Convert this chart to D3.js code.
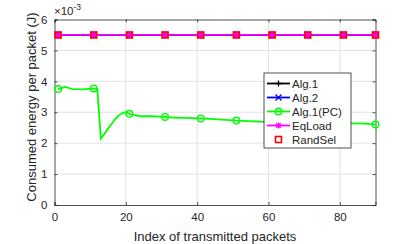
<!DOCTYPE html>
<html>
<head>
<meta charset="utf-8">
<script src="https://cdn.jsdelivr.net/npm/d3@7"></script>
<style>
  body { margin: 0; background: #fff; }
  text { font-family: "Liberation Sans", Arial, sans-serif; fill: #262626; }
</style>
</head>
<body>
<div class="chart"></div>
<script>
// data (energy values in units of 1e-3 J)
var flatX = [1, 11, 21, 31, 41, 51, 61, 71, 81, 90];
var alg1Y = [5.5, 5.5, 5.5, 5.5, 5.5, 5.5, 5.5, 5.5, 5.5, 5.5];
var alg2Y = [5.5, 5.5, 5.5, 5.5, 5.5, 5.5, 5.5, 5.5, 5.5, 5.5];
var eqLoadY = [5.5, 5.5, 5.5, 5.5, 5.5, 5.5, 5.5, 5.5, 5.5, 5.5];
var randSelY = [5.5, 5.5, 5.5, 5.5, 5.5, 5.5, 5.5, 5.5, 5.5, 5.5];

var pcX = [1, 3, 5, 8, 11, 12, 13, 14, 15, 16, 17, 18, 19, 20, 21, 24, 27, 31, 33, 35, 37, 41, 46, 51, 59, 61, 71, 81, 84, 87, 90];
var pcY = [3.75, 3.82, 3.75, 3.74, 3.77, 3.75, 2.15, 2.3, 2.47, 2.62, 2.78, 2.9, 2.97, 3.0, 2.95, 2.87, 2.87, 2.85, 2.83, 2.82, 2.82, 2.80, 2.77, 2.73, 2.69, 2.68, 2.66, 2.64, 2.64, 2.63, 2.60];
var pcMarkX = [1, 11, 21, 31, 41, 51, 61, 71, 81, 90];

var names = ["Alg.1", "Alg.2", "Alg.1(PC)", "EqLoad", "RandSel"];
var xTicks = [0, 20, 40, 60, 80];
var yTicks = [0, 1, 2, 3, 4, 5, 6];

var margin = { top: 19.5, right: 39.5, bottom: 39, left: 54.5 };
var width = 415 - margin.left - margin.right;
var height = 244 - margin.top - margin.bottom;

var xScale = d3.scaleLinear().domain([0, 90]).range([0, width]);
var yScale = d3.scaleLinear().domain([0, 6]).range([height, 0]);

var svg = d3.select(".chart").append("svg")
  .attr("width", 415).attr("height", 244);

var chart = svg.append("g")
  .attr("transform", "translate(" + margin.left + "," + margin.top + ")");

// grid
chart.append("g").selectAll("line").data(xTicks.slice(1))
  .enter().append("line")
  .attr("x1", function (d) { return xScale(d); }).attr("x2", function (d) { return xScale(d); })
  .attr("y1", 0).attr("y2", height)
  .attr("stroke", "#e3e3e3").attr("stroke-width", 1);
chart.append("g").selectAll("line").data(yTicks.slice(1, -1))
  .enter().append("line")
  .attr("y1", function (d) { return yScale(d); }).attr("y2", function (d) { return yScale(d); })
  .attr("x1", 0).attr("x2", width)
  .attr("stroke", "#e3e3e3").attr("stroke-width", 1);

// axes
chart.append("g")
  .attr("transform", "translate(0," + height + ")")
  .call(d3.axisBottom(xScale).tickValues(xTicks).tickSize(-3).tickPadding(8).tickFormat(d3.format("d")));
chart.append("g")
  .call(d3.axisLeft(yScale).tickValues(yTicks).tickSize(-3).tickPadding(7).tickFormat(d3.format("d")));
chart.append("g")
  .call(d3.axisTop(xScale).tickValues(xTicks).tickSize(-3).tickFormat(""));
chart.append("g")
  .attr("transform", "translate(" + width + ",0)")
  .call(d3.axisRight(yScale).tickValues(yTicks).tickSize(-3).tickFormat(""));

chart.selectAll(".domain").attr("stroke", "#262626").attr("stroke-width", 0.8);
chart.selectAll(".tick line").attr("stroke", "#262626").attr("stroke-width", 0.8);
chart.selectAll(".tick text").style("font-size", "11.5px").attr("fill", "#262626")
  .style("font-family", "'Liberation Sans', Arial, sans-serif");

// lines
var line = d3.line()
  .x(function (d) { return xScale(d[0]); })
  .y(function (d) { return yScale(d[1]); });

function zip(xs, ys) { return xs.map(function (x, i) { return [x, ys[i]]; }); }

function drawMarker(g, type, color, cx, cy) {
  var s = 3;
  if (type === "plus") {
    g.append("path").attr("d", "M" + (cx - s) + "," + cy + "H" + (cx + s) + "M" + cx + "," + (cy - s) + "V" + (cy + s))
      .attr("stroke", color).attr("stroke-width", 1.3).attr("fill", "none");
  } else if (type === "cross") {
    g.append("path").attr("d", "M" + (cx - s) + "," + (cy - s) + "L" + (cx + s) + "," + (cy + s) + "M" + (cx - s) + "," + (cy + s) + "L" + (cx + s) + "," + (cy - s))
      .attr("stroke", color).attr("stroke-width", 1.3).attr("fill", "none");
  } else if (type === "circle") {
    g.append("circle").attr("cx", cx).attr("cy", cy).attr("r", 3.3)
      .attr("stroke", color).attr("stroke-width", 1.4).attr("fill", "none");
  } else if (type === "star") {
    g.append("path").attr("d", "M" + (cx - s) + "," + cy + "H" + (cx + s) + "M" + cx + "," + (cy - s) + "V" + (cy + s) +
      "M" + (cx - 2.2) + "," + (cy - 2.2) + "L" + (cx + 2.2) + "," + (cy + 2.2) + "M" + (cx - 2.2) + "," + (cy + 2.2) + "L" + (cx + 2.2) + "," + (cy - 2.2))
      .attr("stroke", color).attr("stroke-width", 1.3).attr("fill", "none");
  } else if (type === "square") {
    g.append("rect").attr("x", cx - 3).attr("y", cy - 3).attr("width", 6).attr("height", 6)
      .attr("stroke", color).attr("stroke-width", 1.6).attr("fill", "none");
  }
}

var series = [
  { name: names[0], color: "#000000", marker: "plus", x: flatX, y: alg1Y, mx: flatX, lined: true },
  { name: names[1], color: "#0000ff", marker: "cross", x: flatX, y: alg2Y, mx: flatX, lined: true },
  { name: names[2], color: "#00ff00", marker: "circle", x: pcX, y: pcY, mx: pcMarkX, lined: true },
  { name: names[3], color: "#ff00ff", marker: "star", x: flatX, y: eqLoadY, mx: flatX, lined: true },
  { name: names[4], color: "#ff0000", marker: "square", x: flatX, y: randSelY, mx: flatX, lined: false }
];

series.forEach(function (s) {
  var g = chart.append("g");
  if (s.lined) {
    g.append("path").attr("d", line(zip(s.x, s.y)))
      .attr("fill", "none").attr("stroke", s.color).attr("stroke-width", 1.8);
  }
  s.mx.forEach(function (mx) {
    var i = s.x.indexOf(mx);
    drawMarker(g, s.marker, s.color, xScale(mx), yScale(s.y[i]));
  });
});

// exponent label
var expo = svg.append("text").attr("x", 54).attr("y", 15).style("font-size", "11.5px");
expo.append("tspan").text("\u00d710");
expo.append("tspan").attr("dy", -5).style("font-size", "8.5px").text("-3");

// axis labels
svg.append("text")
  .attr("x", margin.left + width / 2).attr("y", 241)
  .attr("text-anchor", "middle").style("font-size", "13px")
  .text("Index of transmitted packets");
svg.append("text")
  .attr("transform", "translate(36,107) rotate(-90)")
  .attr("text-anchor", "middle").style("font-size", "13px")
  .text("Consumed energy per packet (J)");

// legend
var legend = svg.append("g").attr("transform", "translate(264,73)");
legend.append("rect").attr("width", 87).attr("height", 75)
  .attr("fill", "#fff").attr("stroke", "#262626").attr("stroke-width", 0.8);
series.forEach(function (s, i) {
  var y = 10.5 + i * 14;
  if (s.lined) {
    legend.append("line").attr("x1", 3).attr("x2", 26).attr("y1", y).attr("y2", y)
      .attr("stroke", s.color).attr("stroke-width", 1.8);
  }
  drawMarker(legend, s.marker, s.color, 14.5, y);
  legend.append("text").attr("x", 28).attr("y", y + 4)
    .style("font-size", "11.5px").text(s.name);
});
</script>
</body>
</html>
